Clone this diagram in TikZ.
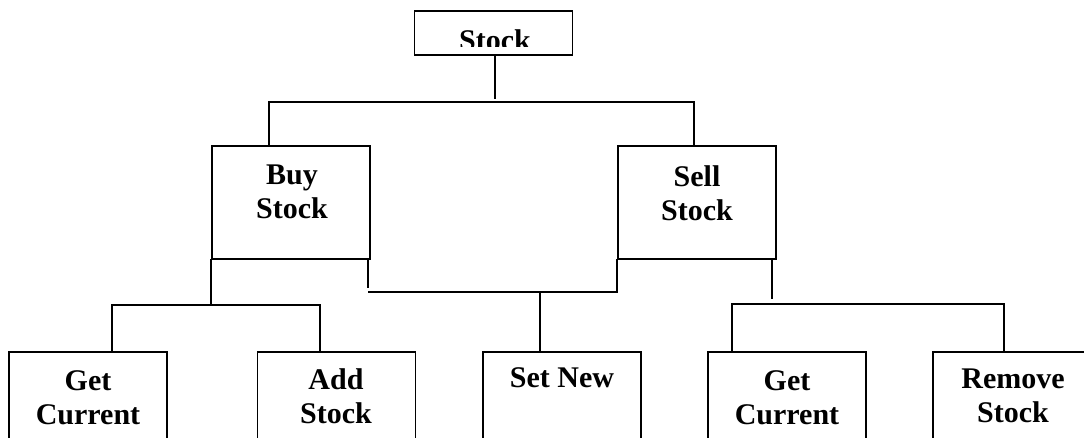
\documentclass[tikz,border=0pt]{standalone}
\usepackage{fontspec}
\setmainfont{Liberation Serif}
\begin{document}
\begin{tikzpicture}[x=1pt,y=-1pt,
  box/.style={draw,line width=1.8pt,inner sep=0pt,outer sep=0pt,minimum width=158pt},
  lbl/.style={font=\fontsize{30}{34}\selectfont\bfseries,align=center,inner sep=0pt,anchor=north},
  con/.style={line width=1.8pt}]
\useasboundingbox (0,0) rectangle (1084,437);
\clip (0,0) rectangle (1084,437);
% boxes
\node[box,minimum height=44pt] (stock) at (493.5,33) {};
\node[box,minimum height=113pt] (buy) at (291,202.5) {};
\node[box,minimum height=113pt] (sell) at (697,202.5) {};
\node[box,minimum height=130pt] (get1) at (88,417) {};
\node[box,minimum height=130pt] (add) at (336.5,417) {};
\node[box,minimum height=130pt] (setnew) at (562,417) {};
\node[box,minimum height=130pt] (get2) at (787,417) {};
\node[box,minimum height=130pt] (remove) at (1012,417) {};
% labels
\begin{scope}
  \clip (414,11) rectangle (573,46);
  \node[lbl] (tstock) at (495,29) {Stock};
\end{scope}
\node[lbl] (tbuy) at (292,165) {Buy\\Stock};
\node[lbl] (tsell) at (697,165) {Sell\\Stock};
\node[lbl] (tget1) at (88,370) {Get\\Current};
\node[lbl] (tadd) at (336,368) {Add\\Stock};
\node[lbl] (tset) at (562,367) {Set New};
\node[lbl] (tget2) at (787,370) {Get\\Current};
\node[lbl] (tremove) at (1013,369) {Remove\\Stock};
% connectors
\draw[con] ([xshift=1.5pt]stock.south) -- ++(0,44);
\draw[con] ([xshift=-22pt]buy.north) -- ++(0,-44) -| ([xshift=-3pt]sell.north);
\draw[con] ([xshift=-1pt]buy.south west) -- ++(0,46);
\draw[con] ([xshift=24pt]get1.north) -- ++(0,-47) -| ([xshift=-16.5pt]add.north);
\coordinate (m) at (368,292);
\draw[con] ([xshift=-2pt]buy.south east) -- ++(0,29);
\draw[con] ([xshift=-1pt]sell.south west) |- (m);
\draw[con] ([xshift=-22pt]setnew.north) -- ([xshift=-22pt]setnew.north |- m);
\draw[con] ([xshift=-4pt]sell.south east) -- ++(0,40);
\draw[con] ([xshift=-55pt]get2.north) -- ++(0,-48) -| ([xshift=-8pt]remove.north);
\end{tikzpicture}
\end{document}
